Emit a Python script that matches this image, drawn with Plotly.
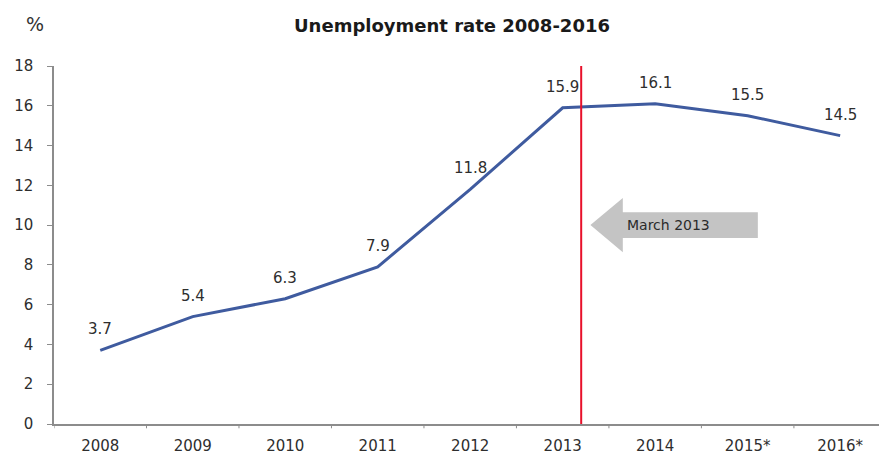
import plotly.graph_objects as go

# Unemployment rate by year (%), * = forecast
years = ["2008", "2009", "2010", "2011", "2012", "2013", "2014", "2015*", "2016*"]
rates = [3.7, 5.4, 6.3, 7.9, 11.8, 15.9, 16.1, 15.5, 14.5]
y_ticks = [0, 2, 4, 6, 8, 10, 12, 14, 16, 18]

# Event marker: March 2013, placed a fifth of the way past the 2013 slot
event_label = "March 2013"
event_pos = years.index("2013") + 0.2

x_idx = list(range(len(years)))

FONT = "DejaVu Sans"
TEXT_COLOR = "#2e2e2e"
LINE_COLOR = "#3f5b9f"
AXIS_COLOR = "#8c8c8c"

fig = go.Figure()

fig.add_trace(go.Scatter(
    x=x_idx, y=rates, mode="lines",
    line=dict(color=LINE_COLOR, width=3),
    hoverinfo="skip", showlegend=False,
))

# Value labels above each point
for xi, v in zip(x_idx, rates):
    fig.add_annotation(
        x=xi, y=v, text=f"{v:.1f}", showarrow=False,
        yshift=21, yanchor="middle", xanchor="center",
        font=dict(family=FONT, size=15, color=TEXT_COLOR),
    )

# Vertical event line
fig.add_shape(
    type="line", xref="x", yref="y",
    x0=event_pos, x1=event_pos, y0=0, y1=18,
    line=dict(color="#e8102a", width=2),
)

# Grey block arrow pointing back at the event line
tip_x = event_pos + 0.10
neck_x = event_pos + 0.45
tail_x = event_pos + 1.91
mid_y = 10.0
head_h = 1.36
body_h = 0.65
arrow_path = (
    f"M {tip_x},{mid_y} "
    f"L {neck_x},{mid_y + head_h} L {neck_x},{mid_y + body_h} "
    f"L {tail_x},{mid_y + body_h} L {tail_x},{mid_y - body_h} "
    f"L {neck_x},{mid_y - body_h} L {neck_x},{mid_y - head_h} Z"
)
fig.add_shape(
    type="path", xref="x", yref="y", path=arrow_path,
    fillcolor="#c4c4c4", line=dict(width=0), layer="above",
)
fig.add_annotation(
    x=(neck_x + tail_x) / 2 - 0.24, y=mid_y, text=event_label, showarrow=False,
    xanchor="center", yanchor="middle",
    font=dict(family=FONT, size=14, color="#2b2b2b"),
)

# Title and unit label
fig.add_annotation(
    xref="paper", yref="paper", x=0.482, y=1.0, yshift=41,
    text="<b>Unemployment rate 2008-2016</b>", showarrow=False,
    xanchor="center", yanchor="middle",
    font=dict(family=FONT, size=18, color="#1a1a1a"),
)
fig.add_annotation(
    xref="paper", yref="paper", x=0.0, y=1.0, xshift=-19, yshift=42,
    text="%", showarrow=False, xanchor="center", yanchor="middle",
    font=dict(family=FONT, size=19, color="#333333"),
)

fig.update_layout(
    width=879, height=457,
    margin=dict(l=54, r=0, t=66, b=33, autoexpand=False),
    paper_bgcolor="white", plot_bgcolor="white",
    font=dict(family=FONT, size=15, color=TEXT_COLOR),
    xaxis=dict(
        range=[-0.5, 8.42],
        tickmode="array", tickvals=x_idx, ticktext=years,
        showgrid=False, zeroline=False,
        showline=True, linecolor=AXIS_COLOR, linewidth=1.5,
        ticks="", tickfont=dict(family=FONT, size=15, color=TEXT_COLOR),
        ticklabelstandoff=7, automargin=False,
        fixedrange=True,
    ),
    yaxis=dict(
        range=[0, 18], tickmode="array", tickvals=y_ticks,
        showgrid=False, zeroline=False,
        showline=True, linecolor=AXIS_COLOR, linewidth=1.5,
        ticks="outside", ticklen=5, tickcolor=AXIS_COLOR, tickwidth=1,
        tickfont=dict(family=FONT, size=15, color=TEXT_COLOR),
        ticklabelstandoff=11, automargin=False,
        fixedrange=True,
    ),
)

# Boundary ticks between year slots on the x axis
for b in range(len(years)):
    fig.add_shape(
        type="line", xref="x", yref="paper",
        x0=b - 0.5, x1=b - 0.5, y0=0, y1=-0.012,
        line=dict(color=AXIS_COLOR, width=1),
    )

fig.write_html("out.html")
